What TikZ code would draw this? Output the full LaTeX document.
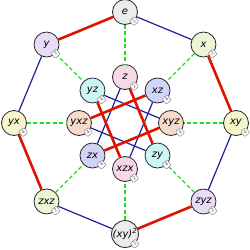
\documentclass[tikz,border=0pt]{standalone}
\usepackage{fontspec}
\setsansfont{DejaVu Sans}
\usepackage{tikz}
\definecolor{xblue}{RGB}{30, 30, 150}
\definecolor{yred}{RGB}{220, 20, 0}
\definecolor{zgreen}{RGB}{30, 220, 30}
\definecolor{greyfill}{RGB}{236, 236, 236}
\definecolor{lilacfill}{RGB}{232, 220, 246}
\definecolor{limefill}{RGB}{236, 246, 214}
\definecolor{lemonfill}{RGB}{246, 246, 204}
\definecolor{pinkfill}{RGB}{248, 216, 232}
\definecolor{cyanfill}{RGB}{204, 246, 246}
\definecolor{bluefill}{RGB}{208, 212, 246}
\definecolor{peachfill}{RGB}{248, 218, 204}

\begin{document}
\begin{tikzpicture}[
  elem/.style={circle, draw=black!85, line width=0.8pt, minimum size=25pt,
    inner sep=0pt, font=\sffamily\itshape\fontsize{10}{12}\selectfont},
  badge/.style={draw=black!55, fill=white, rounded corners=0.9pt, rotate=40,
    minimum size=6.5pt, inner sep=0pt, line width=0.4pt, text=black!70,
    font=\sffamily\fontsize{4.5}{4.5}\selectfont},
  xedge/.style={xblue, line width=1.2pt},
  yedge/.style={yred, line width=2.6pt},
  zedge/.style={zgreen, line width=1.2pt, dash pattern=on 4pt off 2.5pt}
]
\useasboundingbox (-125pt,-127pt) rectangle (125pt,123pt);

% outer ring
\node[elem, fill=greyfill] (e) at (90:111pt) {e};
\node[elem, fill=limefill] (x) at (45:111pt) {x};
\node[elem, fill=lemonfill] (xy) at (0:111pt) {xy};
\node[elem, fill=lilacfill] (zyz) at (-45:111pt) {zyz};
\node[elem, fill=greyfill] (xy2) at (-90:111pt) {(xy)\textsuperscript{2}};
\node[elem, fill=limefill] (zxz) at (-135:111pt) {zxz};
\node[elem, fill=lemonfill] (yx) at (180:111pt) {yx};
\node[elem, fill=lilacfill] (y) at (135:111pt) {y};

% inner ring
\node[elem, fill=pinkfill] (z) at (90:46pt) {z};
\node[elem, fill=bluefill] (xz) at (45:46pt) {xz};
\node[elem, fill=peachfill] (xyz) at (0:46pt) {xyz};
\node[elem, fill=cyanfill] (zy) at (-45:46pt) {zy};
\node[elem, fill=pinkfill] (xzx) at (-90:46pt) {xzx};
\node[elem, fill=bluefill] (zx) at (-135:46pt) {zx};
\node[elem, fill=peachfill] (yxz) at (180:46pt) {yxz};
\node[elem, fill=cyanfill] (yz) at (135:46pt) {yz};

% z edges
\foreach \a/\b in {e/z, x/xz, xy/xyz, zyz/zy, xy2/xzx, zxz/zx, yx/yxz, y/yz}
  \draw[zedge] (\a) -- (\b);

% x edges
\foreach \a/\b in {e/x, xy/zyz, xy2/zxz, yx/y, z/zx, xz/xzx, yz/xyz, yxz/zy}
  \draw[xedge] (\a) -- (\b);

% y edges
\foreach \a/\b in {x/xy, zyz/xy2, zxz/yx, y/e, z/zy, yz/xzx, yxz/xz, zx/xyz}
  \draw[yedge] (\a) -- (\b);

% orders
\foreach \n/\o in {e/1, x/2, xy/4, zyz/2, xy2/2, zxz/2, yx/4, y/2,
    z/2, xz/4, xyz/4, zy/4, xzx/2, zx/4, yxz/4, yz/4}
  \node[badge] (\n-ord) at (\n.-45) {\o};
\end{tikzpicture}
\end{document}
